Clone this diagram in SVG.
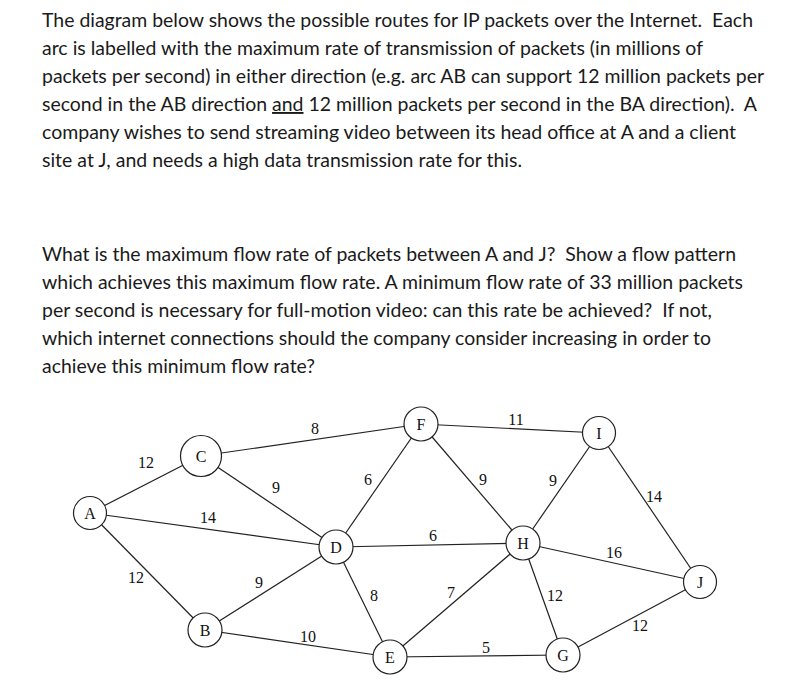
<svg xmlns="http://www.w3.org/2000/svg" width="811" height="697" viewBox="0 0 811 697" xml:space="preserve">
<style>
.p{font-family:Lato,"Open Sans",sans-serif;font-size:19px;fill:#1a1a1a;white-space:pre}
.e{stroke:#222;stroke-width:1.2;fill:none}
.n circle{fill:#fff;stroke:#222;stroke-width:1.2}
.n text,.w{font-family:"Liberation Serif","DejaVu Serif",serif;font-size:16px;fill:#111;text-anchor:middle}
.n text{dominant-baseline:central}
</style>
<rect width="811" height="697" fill="#fff"/>
<g id="para1">
<text class="p" x="42" y="27" textLength="711" lengthAdjust="spacingAndGlyphs">The diagram below shows the possible routes for IP packets over the Internet.  Each</text>
<text class="p" x="42" y="55" textLength="661" lengthAdjust="spacingAndGlyphs">arc is labelled with the maximum rate of transmission of packets (in millions of</text>
<text class="p" x="42" y="83" textLength="722" lengthAdjust="spacingAndGlyphs">packets per second) in either direction (e.g. arc AB can support 12 million packets per</text>
<text class="p" x="42" y="111" textLength="715" lengthAdjust="spacingAndGlyphs">second in the AB direction <tspan text-decoration="underline">and</tspan> 12 million packets per second in the BA direction).  A</text>
<text class="p" x="42" y="139" textLength="694" lengthAdjust="spacingAndGlyphs">company wishes to send streaming video between its head office at A and a client</text>
<text class="p" x="42" y="167" textLength="480" lengthAdjust="spacingAndGlyphs">site at J, and needs a high data transmission rate for this.</text>
</g>
<g id="para2">
<text class="p" x="42" y="261" textLength="694" lengthAdjust="spacingAndGlyphs">What is the maximum flow rate of packets between A and J?  Show a flow pattern</text>
<text class="p" x="42" y="289" textLength="701" lengthAdjust="spacingAndGlyphs">which achieves this maximum flow rate. A minimum flow rate of 33 million packets</text>
<text class="p" x="42" y="317" textLength="670" lengthAdjust="spacingAndGlyphs">per second is necessary for full-motion video: can this rate be achieved?  If not,</text>
<text class="p" x="42" y="345" textLength="669" lengthAdjust="spacingAndGlyphs">which internet connections should the company consider increasing in order to</text>
<text class="p" x="42" y="373" textLength="273" lengthAdjust="spacingAndGlyphs">achieve this minimum flow rate?</text>
</g>
<g id="connectors">
<line class="e" x1="90" y1="513" x2="201" y2="456"/>
<line class="e" x1="90" y1="513" x2="336" y2="547"/>
<line class="e" x1="90" y1="513" x2="205" y2="630"/>
<line class="e" x1="201" y1="456" x2="421" y2="424"/>
<line class="e" x1="201" y1="456" x2="336" y2="547"/>
<line class="e" x1="205" y1="630" x2="336" y2="547"/>
<line class="e" x1="205" y1="630" x2="390" y2="657"/>
<line class="e" x1="336" y1="547" x2="421" y2="424"/>
<line class="e" x1="336" y1="547" x2="523" y2="543"/>
<line class="e" x1="336" y1="547" x2="390" y2="657"/>
<line class="e" x1="421" y1="424" x2="599" y2="433"/>
<line class="e" x1="421" y1="424" x2="523" y2="543"/>
<line class="e" x1="390" y1="657" x2="523" y2="543"/>
<line class="e" x1="390" y1="657" x2="563" y2="655"/>
<line class="e" x1="523" y1="543" x2="599" y2="433"/>
<line class="e" x1="523" y1="543" x2="700" y2="582"/>
<line class="e" x1="523" y1="543" x2="563" y2="655"/>
<line class="e" x1="599" y1="433" x2="700" y2="582"/>
<line class="e" x1="563" y1="655" x2="700" y2="582"/>
<text class="w" x="146" y="468">12</text>
<text class="w" x="208" y="523">14</text>
<text class="w" x="136" y="583">12</text>
<text class="w" x="315" y="434">8</text>
<text class="w" x="276" y="493">9</text>
<text class="w" x="259" y="588">9</text>
<text class="w" x="308" y="642">10</text>
<text class="w" x="368" y="485">6</text>
<text class="w" x="433" y="541">6</text>
<text class="w" x="374" y="601">8</text>
<text class="w" x="516" y="425">11</text>
<text class="w" x="483" y="485">9</text>
<text class="w" x="451" y="598">7</text>
<text class="w" x="486" y="653">5</text>
<text class="w" x="553" y="486">9</text>
<text class="w" x="614" y="558">16</text>
<text class="w" x="555" y="601">12</text>
<text class="w" x="654" y="502">14</text>
<text class="w" x="640" y="631">12</text>
</g>
<g id="A" class="n"><circle cx="90" cy="513" r="16.5"/><text x="90" y="513">A</text></g>
<g id="C" class="n"><circle cx="201" cy="456" r="20.5"/><text x="201" y="456">C</text></g>
<g id="B" class="n"><circle cx="205" cy="630" r="17"/><text x="205" y="630">B</text></g>
<g id="D" class="n"><circle cx="336" cy="547" r="17"/><text x="336" y="547">D</text></g>
<g id="F" class="n"><circle cx="421" cy="424" r="17"/><text x="421" y="424">F</text></g>
<g id="E" class="n"><circle cx="390" cy="657" r="17"/><text x="390" y="657">E</text></g>
<g id="H" class="n"><circle cx="523" cy="543" r="17"/><text x="523" y="543">H</text></g>
<g id="I" class="n"><circle cx="599" cy="433" r="16.5"/><text x="599" y="433">I</text></g>
<g id="G" class="n"><circle cx="563" cy="655" r="17"/><text x="563" y="655">G</text></g>
<g id="J" class="n"><circle cx="700" cy="582" r="16.5"/><text x="700" y="582">J</text></g>
</svg>
